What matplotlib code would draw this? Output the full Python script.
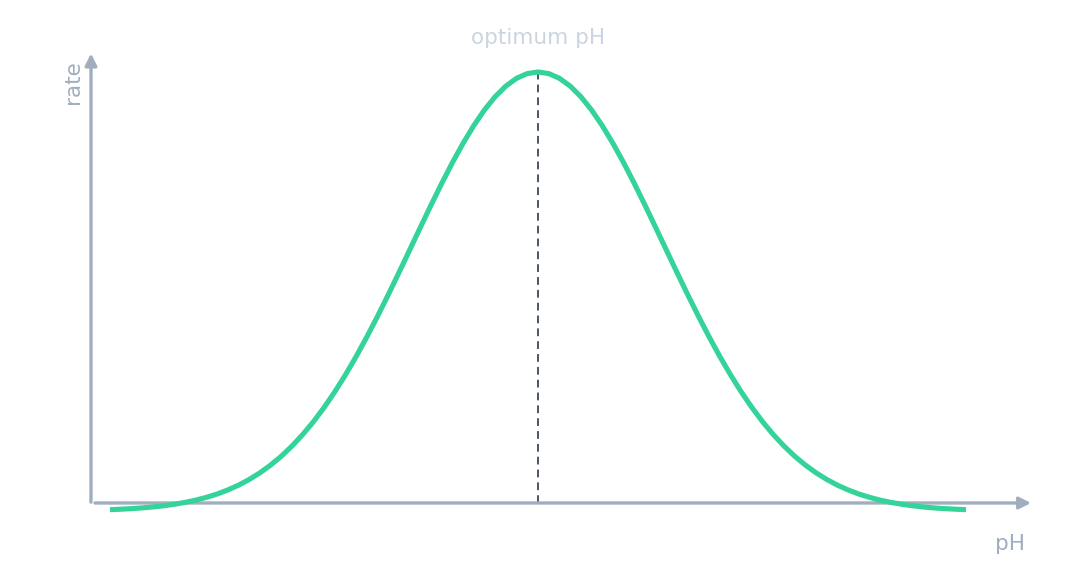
import numpy as np
import matplotlib.pyplot as plt

# values (pH vs relative rate)
ph = list(np.arange(2.0, 12.0001, 0.125))
rate_left = [-0.0155, -0.0144, -0.0131, -0.0114, -0.0092, -0.0065, -0.0030,
             0.0013, 0.0065, 0.0130, 0.0207, 0.0301, 0.0412, 0.0544, 0.0698,
             0.0877, 0.1083, 0.1319, 0.1585, 0.1882, 0.2213, 0.2576, 0.2971,
             0.3397, 0.3851, 0.4330, 0.4829, 0.5343, 0.5866, 0.6391, 0.6909,
             0.7414, 0.7896, 0.8346, 0.8757, 0.9120, 0.9428, 0.9674, 0.9854,
             0.9963]
rate_peak = [1.0]
rate_right = [0.9963, 0.9854, 0.9674, 0.9428, 0.9120, 0.8757, 0.8346,
              0.7896, 0.7414, 0.6909, 0.6391, 0.5866, 0.5343, 0.4829, 0.4330,
              0.3851, 0.3397, 0.2971, 0.2576, 0.2213, 0.1882, 0.1585, 0.1319,
              0.1083, 0.0877, 0.0698, 0.0544, 0.0412, 0.0301, 0.0207, 0.0130,
              0.0065, 0.0013, -0.0030, -0.0065, -0.0092, -0.0114, -0.0131,
              -0.0144, -0.0155]
rate = rate_left + rate_peak + rate_right
optimum_ph = 7.0
optimum_rate = 1.0

axis_col = '#a0aec0'

fig = plt.figure(figsize=(10.86, 5.76), dpi=100)
ax = fig.add_axes([0, 0, 1, 1])
ax.set_xlim(0.715, 13.402)
ax.set_ylim(-0.1694, 1.167)
ax.axis('off')

# axes drawn as arrows
arrow = dict(arrowstyle='-|>,head_length=0.7,head_width=0.35', color=axis_col,
             lw=2.4, shrinkA=0, shrinkB=0)
ax.annotate('', xy=(1.778, 1.043), xytext=(1.778, 0.002), arrowprops=arrow)
ax.annotate('', xy=(12.76, 0.0), xytext=(1.825, 0.0), arrowprops=arrow)

ax.plot(ph, rate, color='#34d399', lw=3.7, solid_capstyle='butt',
        solid_joinstyle='round', zorder=3)
ax.plot([optimum_ph, optimum_ph], [0, optimum_rate], color='#4a5568', lw=1.4,
        dashes=(4, 2.6), zorder=2)

ax.text(optimum_ph, 1.079, 'optimum pH', color='#cbd5e0', fontsize=15.5,
        ha='center', va='center')
ax.text(1.567, 0.977, 'rate', color=axis_col, fontsize=15.5, rotation=90,
        ha='center', va='center')
ax.text(12.51, -0.094, 'pH', color=axis_col, fontsize=15.5,
        ha='center', va='center')

fig.savefig('out.png', dpi=100)
